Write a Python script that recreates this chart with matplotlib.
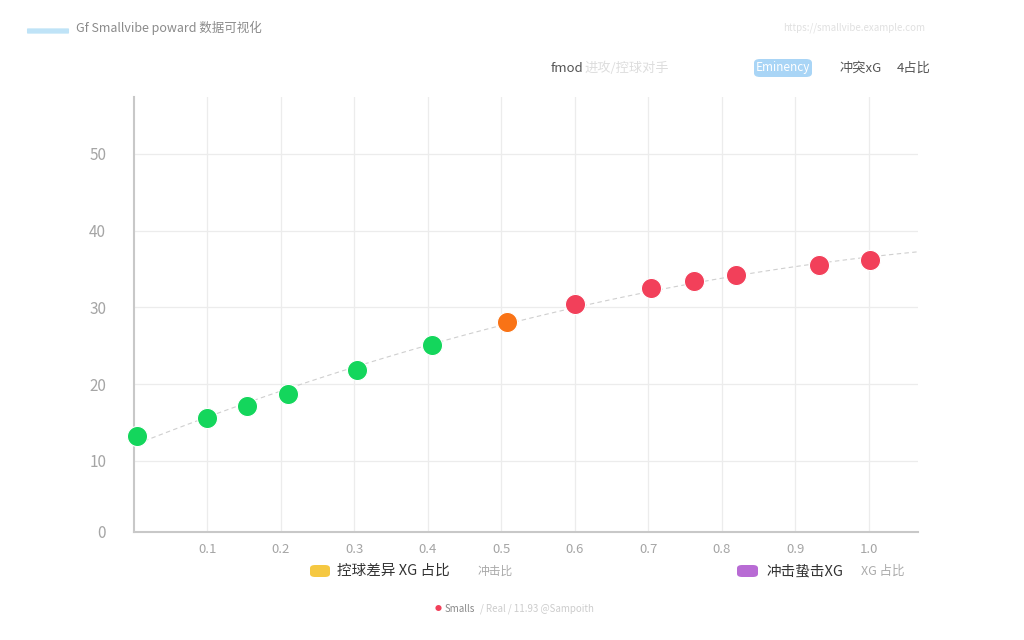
import numpy as np
import matplotlib
matplotlib.use('Agg')
from matplotlib import pyplot as plt
from matplotlib.patches import FancyBboxPatch

plt.rcParams['font.family'] = ['Noto Sans CJK SC', 'DejaVu Sans']

# data
share = [0.004, 0.100, 0.154, 0.209, 0.304, 0.406, 0.507, 0.600, 0.704, 0.762, 0.819, 0.932, 1.001]
xg = [13.2, 15.6, 17.1, 18.7, 21.9, 25.1, 28.1, 30.4, 32.5, 33.5, 34.2, 35.5, 36.2]
groups = ['low'] * 6 + ['mid'] + ['high'] * 6

x_ticks = [0.1, 0.2, 0.3, 0.4, 0.5, 0.6, 0.7, 0.8, 0.9, 1.0]
x_labels = ['0.1', '0.2', '0.3', '0.4', '0.5', '0.6', '0.7', '0.8', '0.9', '1.0']
y_ticks = [0.75, 10, 20, 30, 40, 50]
y_labels = ['0', '10', '20', '30', '40', '50']

COLORS = {'low': '#14d65c', 'mid': '#f97316', 'high': '#f2405a'}
GRID = '#ececec'
TXT = '#a5a5a5'

fig = plt.figure(figsize=(10.24, 6.4), dpi=100)
ax = fig.add_axes([134 / 1024, 1 - 532 / 640, (918 - 134) / 1024, (532 - 97) / 640])

# trend line
fit = np.polyfit(share, xg, 2)
tx = np.linspace(0.004, 1.067, 100)
ax.plot(tx, np.polyval(fit, tx), color='#cfcfcf', lw=0.8, ls=(0, (4, 3)), zorder=2)

for g in ['low', 'mid', 'high']:
    xs = [s for s, k in zip(share, groups) if k == g]
    ys = [v for v, k in zip(xg, groups) if k == g]
    ax.scatter(xs, ys, s=210, color=COLORS[g], edgecolor='white', linewidth=0.8, zorder=3, clip_on=False)

ax.set_xticks(x_ticks)
ax.set_xticklabels(x_labels)
ax.set_yticks(y_ticks)
ax.set_yticklabels(y_labels)
ax.set_xlim(0, 1.067)
ax.set_ylim(0.75, 57.4)
ax.grid(True, color=GRID, lw=0.9)
ax.set_axisbelow(True)
ax.tick_params(length=0, colors=TXT, labelsize=9.5)
ax.tick_params(axis='y', labelsize=11, pad=20)
ax.tick_params(axis='x', pad=8)
for s in ['top', 'right']:
    ax.spines[s].set_visible(False)
ax.spines['left'].set_color('#c8c8c8')
ax.spines['left'].set_linewidth(1.5)
ax.spines['bottom'].set_color('#c8c8c8')
ax.spines['bottom'].set_linewidth(1.5)

# header
fig.patches.append(FancyBboxPatch((28 / 1024, 1 - 33 / 640), 40 / 1024, 4 / 640,
                                  boxstyle='round,pad=0.001', fc='#bfe3f7', ec='none',
                                  transform=fig.transFigure))
fig.text(76 / 1024, 1 - 28 / 640, 'Gf Smallvibe poward 数据可视化', fontsize=9,
         color='#8a8a8a', va='center')
fig.text(925 / 1024, 1 - 28 / 640, 'https://smallvibe.example.com', fontsize=7,
         color='#e0e0e0', va='center', ha='right')

fig.text(551 / 1024, 1 - 68 / 640, 'fmod', fontsize=9.5, color='#555555', va='center')
fig.text(584 / 1024, 1 - 68 / 640, '进攻/控球对手', fontsize=9.5, color='#dddddd', va='center')
fig.patches.append(FancyBboxPatch((754 / 1024, 1 - 77 / 640), 58 / 1024, 18 / 640,
                                  boxstyle='round,pad=0,rounding_size=0.006', fc='#a9d5f6',
                                  ec='none', transform=fig.transFigure))
fig.text(783 / 1024, 1 - 68 / 640, 'Eminency', fontsize=8.5, color='white',
         va='center', ha='center')
fig.text(840 / 1024, 1 - 68 / 640, '冲突xG', fontsize=9.5, color='#555555', va='center')
fig.text(897 / 1024, 1 - 68 / 640, '4占比', fontsize=9.5, color='#555555', va='center')

# legend row
fig.patches.append(FancyBboxPatch((310 / 1024, 1 - 577 / 640), 20 / 1024, 12 / 640,
                                  boxstyle='round,pad=0,rounding_size=0.005', fc='#f5c842',
                                  ec='none', transform=fig.transFigure))
fig.text(337 / 1024, 1 - 571 / 640, '控球差异 XG 占比', fontsize=10.5, color='#333333', va='center')
fig.text(478 / 1024, 1 - 571 / 640, '冲击比', fontsize=8.5, color='#aaaaaa', va='center')
fig.patches.append(FancyBboxPatch((737 / 1024, 1 - 577 / 640), 21 / 1024, 12 / 640,
                                  boxstyle='round,pad=0,rounding_size=0.005', fc='#b86bd4',
                                  ec='none', transform=fig.transFigure))
fig.text(766 / 1024, 1 - 571 / 640, '冲击蛰击XG', fontsize=10.5, color='#333333', va='center')
fig.text(861 / 1024, 1 - 571 / 640, 'XG 占比', fontsize=9, color='#aaaaaa', va='center')

# footer
fig.text(438 / 1024, 1 - 609 / 640, '●', fontsize=5, color='#f2405a', va='center', ha='center')
fig.text(445 / 1024, 1 - 609 / 640, 'Smalls', fontsize=7, color='#888888', va='center')
fig.text(480 / 1024, 1 - 609 / 640, '/ Real / 11.93 @Sampoith', fontsize=7,
         color='#cccccc', va='center')

fig.savefig('out.png', dpi=100, facecolor='white')
